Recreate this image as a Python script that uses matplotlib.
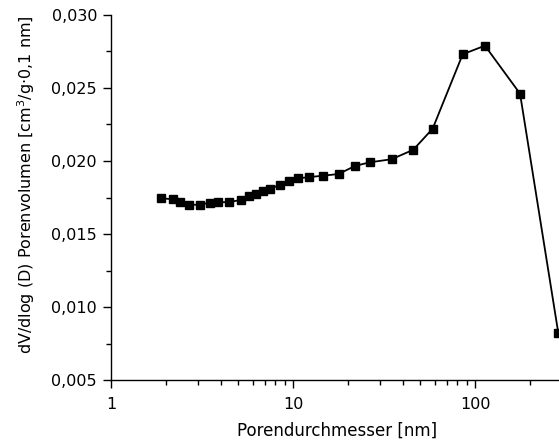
import matplotlib
matplotlib.use("Agg")
import matplotlib.pyplot as plt
from matplotlib.ticker import FuncFormatter, MultipleLocator, LogLocator, FixedLocator

pore_diameter_nm = [1.88, 2.18, 2.38, 2.68, 3.07, 3.48, 3.86, 4.47, 5.16, 5.75, 6.24,
                    6.87, 7.50, 8.45, 9.55, 10.7, 12.3, 14.6, 17.8, 21.9, 26.4, 34.8,
                    45.8, 58.5, 85.6, 113.4, 176.8, 287.0]
pore_volume = [0.01745, 0.01738, 0.01719, 0.01699, 0.01701, 0.01714, 0.01717, 0.01719,
               0.01733, 0.01760, 0.01774, 0.01792, 0.01810, 0.01836, 0.01865, 0.01881,
               0.01890, 0.01899, 0.01911, 0.01966, 0.01991, 0.02012, 0.02077, 0.02221,
               0.02731, 0.02790, 0.02461, 0.00820]
x_ticks = [1, 10, 100]
x_tick_labels = ["1", "10", "100"]

fig = plt.figure(figsize=(5.59, 4.48), dpi=100)
ax = fig.add_axes([111/559, 68/448, 448/559, 365/448])

ax.plot(pore_diameter_nm, pore_volume, color="black", lw=1.3, marker="s", ms=6,
        markerfacecolor="black", markeredgecolor="black")

ax.set_xscale("log")
ax.set_xlim(1, 289.4)
ax.set_ylim(0.005, 0.030)

ax.xaxis.set_major_locator(FixedLocator(x_ticks))
ax.xaxis.set_major_formatter(FuncFormatter(lambda v, p: x_tick_labels[x_ticks.index(v)] if v in x_ticks else ""))
ax.xaxis.set_minor_locator(LogLocator(base=10, subs=range(2, 10)))
ax.xaxis.set_minor_formatter(FuncFormatter(lambda v, p: ""))

ax.yaxis.set_major_locator(MultipleLocator(0.005))
ax.yaxis.set_minor_locator(MultipleLocator(0.0025))
ax.yaxis.set_major_formatter(FuncFormatter(lambda v, p: f"{v:.3f}".replace(".", ",")))

for s in ["top", "right"]:
    ax.spines[s].set_visible(False)
for s in ["left", "bottom"]:
    ax.spines[s].set_linewidth(1.0)

ax.tick_params(which="major", direction="out", length=6, width=1.0, labelsize=11.5, pad=4)
ax.tick_params(which="minor", direction="out", length=3.5, width=1.0)
ax.tick_params(axis="x", which="major", pad=6)

ax.set_xlabel("Porendurchmesser [nm]", fontsize=12)
ax.set_ylabel("dV/dlog (D) Porenvolumen [cm$^{3}$/g·0,1 nm]", fontsize=11.5)
ax.xaxis.set_label_coords(0.505, -0.115)
ax.yaxis.set_label_coords(-0.166, 0.534)

fig.savefig("out.png", dpi=100)
